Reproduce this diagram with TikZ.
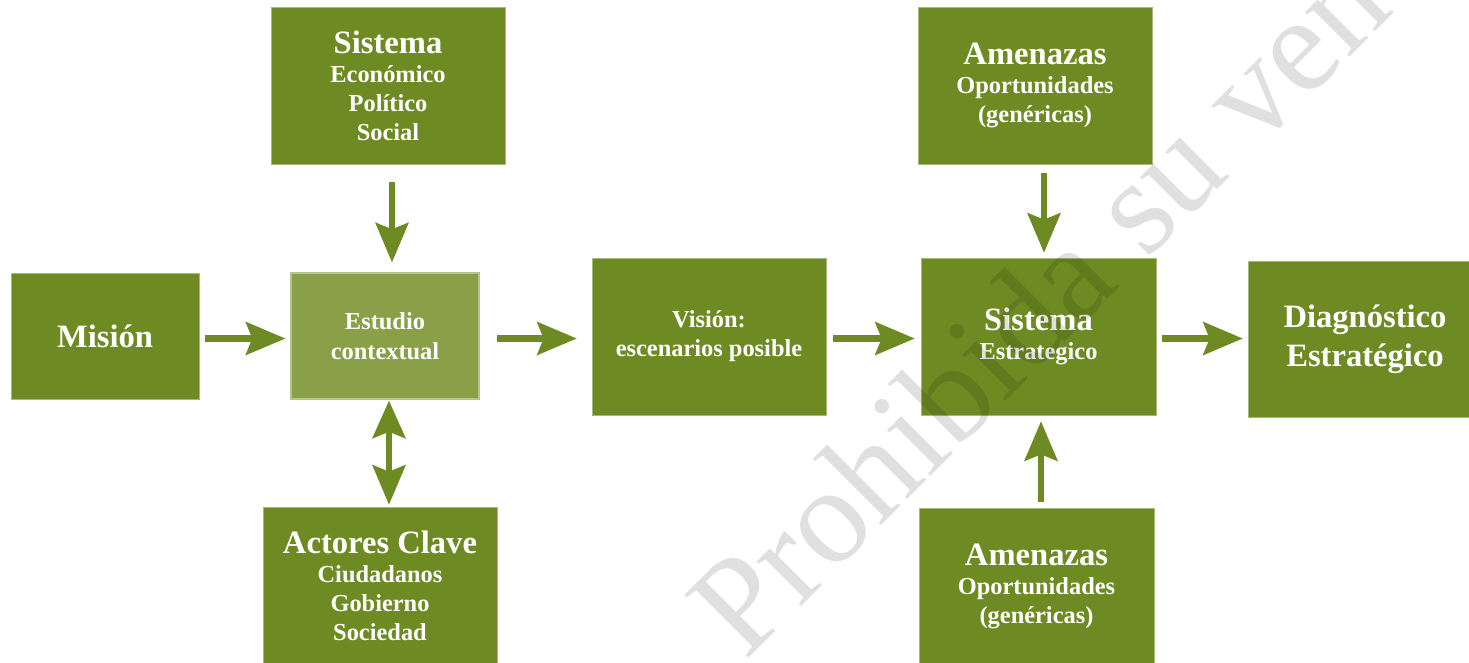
\documentclass[tikz,border=0pt]{standalone}
\usepackage{fontspec}
\setmainfont{Liberation Serif}
\usetikzlibrary{arrows.meta}
\definecolor{dgreen}{HTML}{6E8B23}
\definecolor{lgreen}{HTML}{89A048}
\definecolor{edgegreen}{HTML}{A6BB78}
\definecolor{estedge}{HTML}{B3C68A}
\newcommand{\bigt}[1]{{\fontsize{32.6}{29}\selectfont #1}}
\begin{document}
\begin{tikzpicture}[x=1pt,y=-1pt,
  box/.style={fill=dgreen,draw=edgegreen,line width=0.8pt,text=white,align=center,
    inner sep=0pt,minimum width=234pt,minimum height=157pt,
    font=\fontsize{24.4}{29}\selectfont\bfseries},
  tip/.style={Stealth[length=40pt,width=34pt,inset=7pt,line width=0pt]},
  arr/.style={draw=dgreen,line width=6.5pt,-{Stealth[length=40pt,width=34pt,inset=7pt,line width=0pt]}},
  darr/.style={draw=dgreen,line width=6.5pt,{Stealth[length=38pt,width=34pt,inset=7pt,line width=0pt]}-{Stealth[length=40pt,width=34pt,inset=7pt,line width=0pt]}},
  wmark/.style={rotate=45,anchor=base west,inner sep=0pt,text=black,text opacity=0.12,
    font=\fontsize{137}{137}\selectfont}
]
\useasboundingbox (0,0) rectangle (1469,663);
\clip (0,0) rectangle (1469,663);

% boxes
\node[box] (sist) at (388,85.5) {\bigt{Sistema}\\Económico\\Político\\Social};
\node[box,minimum width=188pt,minimum height=126pt,font=\fontsize{32.6}{39}\selectfont\bfseries] (mision) at (105,336) {Misión};
\node[box,fill=lgreen,draw=estedge,line width=1.5pt,minimum width=188pt,minimum height=126pt,font=\fontsize{24.4}{30}\selectfont\bfseries] (estudio) at (385,336) {Estudio\\contextual};
\node[box] (vision) at (709,336.5) {Visión:\\escenarios posible};
\node[box,minimum width=235pt] (sisest) at (1038.5,336.5) {\bigt{Sistema}\\Estrategico};
\node[box] (amen1) at (1035,85.5) {\bigt{Amenazas}\\Oportunidades\\(genéricas)};
\node[box,minimum height=156pt,font=\fontsize{32.6}{39}\selectfont\bfseries] (diag) at (1365,339) {Diagnóstico\\Estratégico};
\node[box] (actores) at (380,585.5) {\bigt{Actores Clave}\\Ciudadanos\\Gobierno\\Sociedad};
\node[box,minimum width=235pt] (amen2) at (1036.5,586.5) {\bigt{Amenazas}\\Oportunidades\\(genéricas)};

% guide coordinates
\coordinate (rowy) at (0,338.5);
\coordinate (colA) at (392,0);
\coordinate (colB) at (389,0);
\coordinate (colC) at (1044,0);
\coordinate (colD) at (1041,0);

% arrows
\draw[arr,shorten <=6pt,shorten >=5pt] (mision.east |- rowy) -- (estudio.west |- rowy);
\draw[arr,shorten <=17pt,shorten >=15pt] (estudio.east |- rowy) -- (vision.west |- rowy);
\draw[arr,shorten <=7pt,shorten >=6pt] (vision.east |- rowy) -- (sisest.west |- rowy);
\draw[arr,shorten <=6pt,shorten >=5pt] (sisest.east |- rowy) -- (diag.west |- rowy);
\draw[arr,shorten <=18pt,shorten >=10pt] (sist.south -| colA) -- (estudio.north -| colA);
\draw[darr,shorten <=1pt,shorten >=2pt] (estudio.south -| colB) -- (actores.north -| colB);
\draw[arr,shorten <=9pt,shorten >=5pt] (amen1.south -| colC) -- (sisest.north -| colC);
\draw[arr,shorten <=6pt,shorten >=6pt] (amen2.north -| colD) -- (sisest.south -| colD);

% watermark
\node[wmark] (wm) at (745,662) {Prohibida su ven};
\end{tikzpicture}
\end{document}
